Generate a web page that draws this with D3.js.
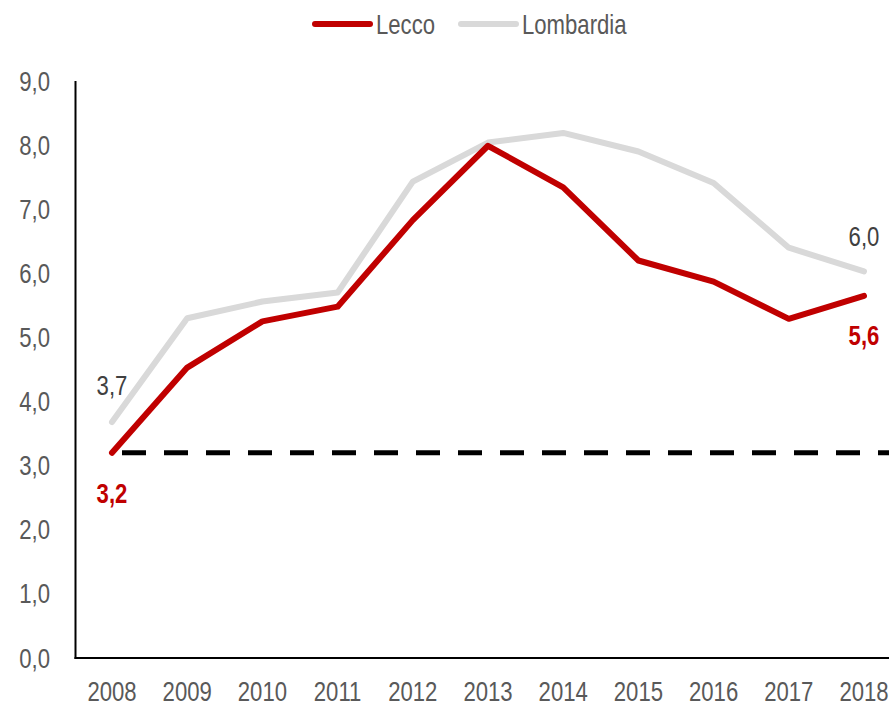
<!DOCTYPE html>
<html>
<head>
<meta charset="utf-8">
<script src="https://cdn.jsdelivr.net/npm/d3@7"></script>
<style>
  html, body { margin: 0; padding: 0; background: #fff; }
  svg { display: block; }
  text { font-family: "Liberation Sans", Arial, sans-serif; }
</style>
</head>
<body>
<svg id="chart" width="889" height="704"></svg>
<script>
const years = [2008, 2009, 2010, 2011, 2012, 2013, 2014, 2015, 2016, 2017, 2018];
const lecco = [3.2, 4.53, 5.25, 5.48, 6.83, 7.99, 7.34, 6.2, 5.87, 5.29, 5.65];
const lombardia = [3.68, 5.3, 5.56, 5.7, 7.43, 8.04, 8.19, 7.9, 7.41, 6.4, 6.03];
const yTicks = [0, 1, 2, 3, 4, 5, 6, 7, 8, 9];
const referenceLevel = 3.2;
const seriesNames = ["Lecco", "Lombardia"];
const seriesColors = ["#C00000", "#D9D9D9"];

const W = 889, H = 704;
const svg = d3.select("#chart");
const NARROW = 0.82;
const FS = 27;

const x = d3.scaleLinear().domain([2008, 2018]).range([112, 864]);
const y = d3.scaleLinear().domain([0, 9]).range([658, 81]);
const axisX = 75.5;

const fmt = v => d3.format(".1f")(v).replace(".", ",");

function narrowText(sel) {
  return sel.attr("transform", d => `translate(${d.px},${d.py}) scale(${NARROW},1)`)
    .attr("font-size", FS);
}

// y tick labels
narrowText(svg.append("g").selectAll("text")
  .data(yTicks.map(v => ({ v, px: 50, py: y(v) + 9.5 }))).join("text"))
  .attr("text-anchor", "end")
  .attr("fill", "#595959")
  .text(d => fmt(d.v));

// x tick labels
narrowText(svg.append("g").selectAll("text")
  .data(years.map(v => ({ v, px: x(v), py: 701 }))).join("text"))
  .attr("text-anchor", "middle")
  .attr("fill", "#595959")
  .text(d => d.v);

// dashed reference line
svg.append("line")
  .attr("x1", x(2008) + 10).attr("x2", W)
  .attr("y1", y(referenceLevel)).attr("y2", y(referenceLevel))
  .attr("stroke", "#000").attr("stroke-width", 5)
  .attr("stroke-dasharray", "24,18");

const line = d3.line().x((d, i) => x(years[i])).y(d => y(d));

svg.append("path").datum(lombardia)
  .attr("d", line).attr("fill", "none")
  .attr("stroke", seriesColors[1]).attr("stroke-width", 6)
  .attr("stroke-linecap", "round").attr("stroke-linejoin", "round");

svg.append("path").datum(lecco)
  .attr("d", line).attr("fill", "none")
  .attr("stroke", seriesColors[0]).attr("stroke-width", 6)
  .attr("stroke-linecap", "round").attr("stroke-linejoin", "round");

// axes lines
svg.append("line").attr("x1", axisX).attr("x2", axisX)
  .attr("y1", y(9)).attr("y2", y(0) + 1)
  .attr("stroke", "#000").attr("stroke-width", 2);
svg.append("line").attr("x1", axisX - 1).attr("x2", W)
  .attr("y1", y(0)).attr("y2", y(0))
  .attr("stroke", "#000").attr("stroke-width", 2);

// data labels
const last = years.length - 1;
const labels = [
  { xv: years[0], yv: lombardia[0], dy: -27, text: fmt(lombardia[0]), color: "#404040", weight: "normal" },
  { xv: years[last], yv: lombardia[last], dy: -25, text: fmt(lombardia[last]), color: "#404040", weight: "normal" },
  { xv: years[0], yv: lecco[0], dy: 50, text: fmt(lecco[0]), color: "#C00000", weight: "bold" },
  { xv: years[last], yv: lecco[last], dy: 49, text: fmt(Math.floor(lecco[last] * 10) / 10), color: "#C00000", weight: "bold" }
];
narrowText(svg.append("g").selectAll("text")
  .data(labels.map(d => Object.assign({ px: x(d.xv), py: y(d.yv) + d.dy }, d))).join("text"))
  .attr("text-anchor", "middle")
  .attr("fill", d => d.color).attr("font-weight", d => d.weight)
  .text(d => d.text);

// legend
const legend = [
  { name: seriesNames[0], color: seriesColors[0], x1: 315, px: 376, py: 34 },
  { name: seriesNames[1], color: seriesColors[1], x1: 461, px: 522, py: 34 }
];
const lg = svg.append("g");
lg.selectAll("line").data(legend).join("line")
  .attr("x1", d => d.x1).attr("x2", d => d.x1 + 55).attr("y1", 24).attr("y2", 24)
  .attr("stroke", d => d.color).attr("stroke-width", 6).attr("stroke-linecap", "round");
narrowText(lg.selectAll("text").data(legend).join("text"))
  .attr("fill", "#595959").text(d => d.name);
</script>
</body>
</html>
